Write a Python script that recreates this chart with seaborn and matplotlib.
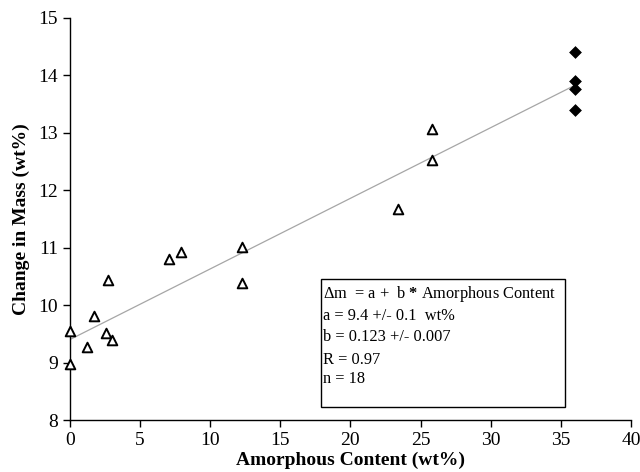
import matplotlib
matplotlib.use("Agg")
import matplotlib.pyplot as plt
import seaborn as sns
import numpy as np
import pandas as pd

# Measured samples (open triangles)
amorphous_tri = [0, 0, 1.2, 1.7, 2.55, 3.0, 2.75, 7.05, 7.9, 12.25, 12.25, 23.4, 25.8, 25.8]
mass_tri = [9.55, 8.97, 9.28, 9.81, 9.52, 9.39, 10.44, 10.81, 10.93, 11.01, 10.39, 11.68, 12.53, 13.06]

# Fully amorphous reference samples (filled diamonds)
amorphous_dia = [36, 36, 36, 36]
mass_dia = [14.40, 13.91, 13.77, 13.39]

# Linear fit parameters
fit_a = 9.4
fit_b = 0.123
fit_x = [0, 36]

x_ticks = [0, 5, 10, 15, 20, 25, 30, 35, 40]
y_ticks = [8, 9, 10, 11, 12, 13, 14, 15]

fit_lines = [
    r"$\Delta$m  = a +  b $\mathbf{*}$ Amorphous Content",
    "a = 9.4 +/- 0.1  wt%",
    "b = 0.123 +/- 0.007",
    "R = 0.97",
    "n = 18",
]

sns.set_style("ticks")
plt.rcParams["font.family"] = ["Liberation Serif", "DejaVu Serif"]
plt.rcParams["mathtext.fontset"] = "custom"
plt.rcParams["mathtext.rm"] = "Liberation Serif"
plt.rcParams["mathtext.bf"] = "Liberation Serif:bold"
for key in ("text.color", "axes.labelcolor", "xtick.color", "ytick.color", "axes.edgecolor"):
    plt.rcParams[key] = "black"

fig = plt.figure(figsize=(6.4, 4.72), dpi=100)
ax = fig.add_axes([0.109, 0.110, 0.877, 0.852])

df_tri = pd.DataFrame({"x": amorphous_tri, "y": mass_tri})
df_dia = pd.DataFrame({"x": amorphous_dia, "y": mass_dia})
df_fit = pd.DataFrame({"x": fit_x, "y": [fit_a + fit_b * v for v in fit_x]})

sns.lineplot(data=df_fit, x="x", y="y", ax=ax, color="#a6a6a6", linewidth=0.9, zorder=1)
sns.scatterplot(data=df_tri, x="x", y="y", ax=ax, marker="^", s=48,
                facecolor="white", edgecolor="black", linewidth=1.4, zorder=3, clip_on=False)
sns.scatterplot(data=df_dia, x="x", y="y", ax=ax, marker="D", s=36,
                color="black", edgecolor="black", linewidth=0.5, zorder=3, clip_on=False)

ax.set_xlim(0, 40)
ax.set_ylim(8, 15)
ax.set_xticks(x_ticks)
ax.set_yticks(y_ticks)
ax.tick_params(axis="both", labelsize=14, length=5, width=1, direction="out", color="black",
               labelcolor="black")
sns.despine(ax=ax)
for sp in ("left", "bottom"):
    ax.spines[sp].set_linewidth(1)
    ax.spines[sp].set_color("black")

ax.set_xlabel("Amorphous Content (wt%)", fontsize=14, fontweight="bold", labelpad=2, color="black")
ax.set_ylabel("Change in Mass (wt%)", fontsize=14, fontweight="bold", labelpad=6, color="black")

# Fit summary box
box = plt.Rectangle((17.9, 8.23), 17.4, 2.23, fill=False, edgecolor="black",
                    linewidth=1, zorder=2)
ax.add_patch(box)
line_y = [10.20, 9.82, 9.44, 9.05, 8.71]
for txt, yy in zip(fit_lines, line_y):
    ax.text(18.05, yy, txt, fontsize=11.8, va="center", ha="left", zorder=4, color="black")

fig.savefig("out.png", dpi=100)
